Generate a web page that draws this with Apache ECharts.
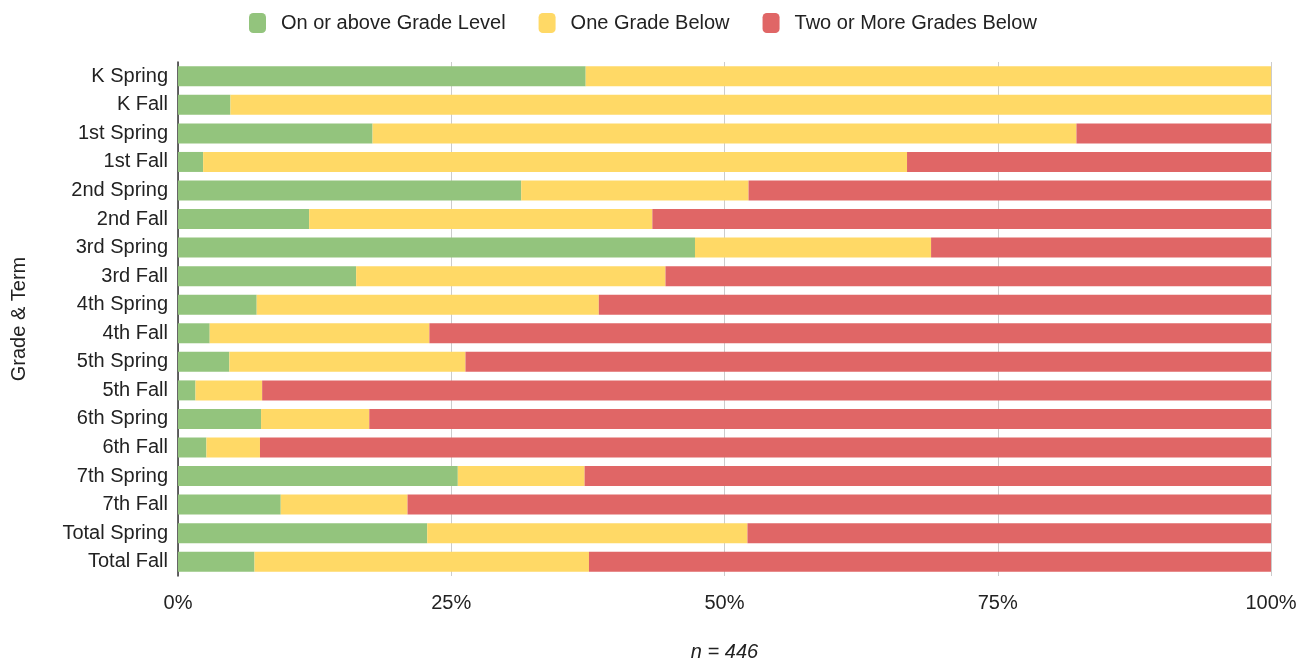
<!DOCTYPE html>
<html>
<head>
<meta charset="utf-8">
<script src="https://cdn.jsdelivr.net/npm/echarts@6/dist/echarts.min.js"></script>
<style>
	html, body { margin: 0; padding: 0; background: #fff; }
	#chart { width: 1312px; height: 664px; }
</style>
</head>
<body>
<div id="chart"></div>
<script>
// categories, top to bottom
const categories = [
	"K Spring", "K Fall", "1st Spring", "1st Fall", "2nd Spring", "2nd Fall",
	"3rd Spring", "3rd Fall", "4th Spring", "4th Fall", "5th Spring", "5th Fall",
	"6th Spring", "6th Fall", "7th Spring", "7th Fall", "Total Spring", "Total Fall"
]
// percent of students
const onGrade = [37.3, 4.8, 17.8, 2.3, 31.4, 12.0, 47.3, 16.3, 7.2, 2.9, 4.7, 1.6, 7.6, 2.6, 25.6, 9.4, 22.8, 7.0]
const oneBelow = [62.7, 95.2, 64.4, 64.4, 20.8, 31.4, 21.6, 28.3, 31.3, 20.1, 21.6, 6.1, 9.9, 4.9, 11.6, 11.6, 29.3, 30.6]
const twoBelow = [0, 0, 17.8, 33.3, 47.8, 56.6, 31.1, 55.4, 61.5, 77.0, 73.7, 92.3, 82.5, 92.5, 62.8, 79.0, 47.9, 62.4]
const xTicks = [0, 25, 50, 75, 100]

const font = "Liberation Sans, Arial, sans-serif"

const chart = echarts.init(document.getElementById("chart"))

const mkSeries = (name, data, color) => ({
	name: name,
	type: "bar",
	stack: "total",
	data: data,
	barCategoryGap: "30%",
	itemStyle: { color: color },
	emphasis: { disabled: true }
})

chart.setOption({
	animation: false,
	textStyle: { fontFamily: font },
	legend: {
		top: 8,
		left: 244,
		itemWidth: 17,
		itemHeight: 20,
		itemGap: 33,
		icon: "roundRect",
		textStyle: { fontSize: 20, color: "#222", fontFamily: font, padding: [0, 0, 0, 10] },
		data: ["On or above Grade Level", "One Grade Below", "Two or More Grades Below"]
	},
	grid: {
		left: 178,
		right: 41,
		top: 62,
		bottom: 88,
		containLabel: false,
		outerBoundsMode: "none"
	},
	xAxis: {
		type: "value",
		min: 0,
		max: 100,
		interval: 25,
		name: "n = 446",
		nameLocation: "middle",
		nameGap: 66,
		nameTextStyle: { fontSize: 20, fontStyle: "italic", color: "#222", fontFamily: font },
		axisLine: { show: false },
		axisTick: { show: false },
		axisLabel: {
			fontSize: 20,
			color: "#222",
			margin: 17,
			formatter: v => xTicks.includes(v) ? v + "%" : ""
		},
		splitLine: { show: true, lineStyle: { color: "#cccccc", width: 1 } }
	},
	yAxis: {
		type: "category",
		data: categories,
		inverse: true,
		name: "Grade & Term",
		nameLocation: "middle",
		nameGap: 149,
		nameRotate: 90,
		nameTextStyle: { fontSize: 20, color: "#222", fontFamily: font },
		axisLine: { show: true, lineStyle: { color: "#333", width: 1.5 } },
		axisTick: { show: false },
		axisLabel: { fontSize: 20, color: "#222", margin: 10 }
	},
	series: [
		mkSeries("On or above Grade Level", onGrade, "#93c47d"),
		mkSeries("One Grade Below", oneBelow, "#ffd966"),
		mkSeries("Two or More Grades Below", twoBelow, "#e06666")
	]
})
</script>
</body>
</html>
